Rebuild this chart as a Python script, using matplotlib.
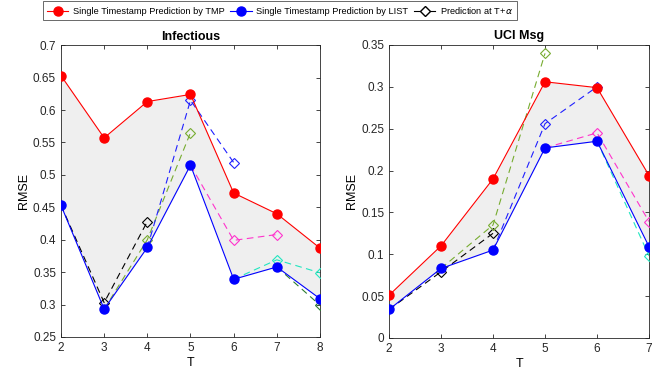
import matplotlib
matplotlib.use("Agg")
import matplotlib.pyplot as plt
from matplotlib.lines import Line2D

plt.rcParams['font.family'] = ['Liberation Sans', 'DejaVu Sans']

# Infectious
inf_T = [2, 3, 4, 5, 6, 7, 8]
inf_tmp = [0.653, 0.557, 0.613, 0.624, 0.472, 0.440, 0.387]
inf_list = [0.453, 0.293, 0.388, 0.515, 0.339, 0.358, 0.309]
# predictions at T+alpha, starting from the LIST point at T
inf_pred = {
    2: [0.303, 0.428],
    3: [0.400, 0.565],
    4: [0.615, 0.519],
    5: [0.399, 0.408],
    6: [0.369, 0.349],
    7: [0.299],
}

# UCI Msg
uci_T = [2, 3, 4, 5, 6, 7]
uci_tmp = [0.051, 0.110, 0.190, 0.306, 0.299, 0.194]
uci_list = [0.034, 0.083, 0.105, 0.227, 0.235, 0.109]
uci_pred = {
    2: [0.079, 0.125],
    3: [0.135, 0.340],
    4: [0.256, 0.300],
    5: [0.245, 0.139],
    6: [0.098],
}

pred_colors = ['black', '#77AC30', '#1f1fff', '#ff33cc', '#22e6c0', '#2e7d32']


def draw(ax, T, tmp, lst, pred, title, ylim, yticks, yticklabels):
    ax.fill_between(T, lst, tmp, color='#efefef', lw=0, zorder=1)
    for k, (t0, vals) in enumerate(pred.items()):
        i = T.index(t0)
        xs = [t0] + [t0 + j + 1 for j in range(len(vals))]
        ys = [lst[i]] + vals
        c = pred_colors[k]
        ax.plot(xs, ys, ls=(0, (6, 4)), color=c, lw=0.8, zorder=2)
        ax.plot(xs[1:], ys[1:], ls='none', marker='D', ms=5.5, mfc='none',
                mec=c, mew=0.8, zorder=3)
    ax.plot(T, tmp, '-o', color='red', lw=0.8, ms=6.5, zorder=4)
    ax.plot(T, lst, '-o', color='blue', lw=0.8, ms=6.5, zorder=4)
    ax.set_xlim(T[0], T[-1])
    ax.set_ylim(*ylim)
    ax.set_xticks(T)
    ax.set_yticks(yticks)
    ax.set_yticklabels(yticklabels)
    ax.tick_params(direction='in', top=True, right=True, labelsize=8.5, length=3,
                   width=0.6, colors='#262626')
    for s in ax.spines.values():
        s.set_linewidth(0.6)
        s.set_color('#262626')
    ax.set_title(title, fontsize=9, fontweight='bold', pad=4)
    ax.set_xlabel('T', fontsize=9, labelpad=2)
    ax.set_ylabel('RMSE', fontsize=9, labelpad=2)


fig = plt.figure(figsize=(6.65, 3.81), dpi=100)
ax1 = fig.add_axes([0.0917, 0.1155, 0.3895, 0.766])
ax2 = fig.add_axes([0.585, 0.113, 0.391, 0.769])

y1 = [0.25, 0.3, 0.35, 0.4, 0.45, 0.5, 0.55, 0.6, 0.65, 0.7]
draw(ax1, inf_T, inf_tmp, inf_list, inf_pred, 'Infectious', (0.25, 0.7),
     y1, ['%g' % v for v in y1])
y2 = [0, 0.05, 0.1, 0.15, 0.2, 0.25, 0.3, 0.35]
draw(ax2, uci_T, uci_tmp, uci_list, uci_pred, 'UCI Msg', (0, 0.35),
     y2, ['%g' % v for v in y2])

handles = [
    Line2D([], [], color='red', marker='o', lw=0.8, ms=6.5),
    Line2D([], [], color='blue', marker='o', lw=0.8, ms=6.5),
    Line2D([], [], color='black', marker='D', lw=0.8, ms=5.5, mfc='white'),
]
labels = ['Single Timestamp Prediction by TMP',
          'Single Timestamp Prediction by LIST',
          r'Prediction at T+$\alpha$']
leg = fig.legend(handles, labels, ncol=3, loc='center',
                 bbox_to_anchor=(280 / 665, 1 - 10.5 / 381), fontsize=6.7,
                 frameon=True, fancybox=False, edgecolor='#262626',
                 handlelength=2.3, columnspacing=0.6, handletextpad=0.5,
                 borderpad=0.4, borderaxespad=0)
leg.get_frame().set_linewidth(0.6)

fig.savefig('out.png', dpi=100)
